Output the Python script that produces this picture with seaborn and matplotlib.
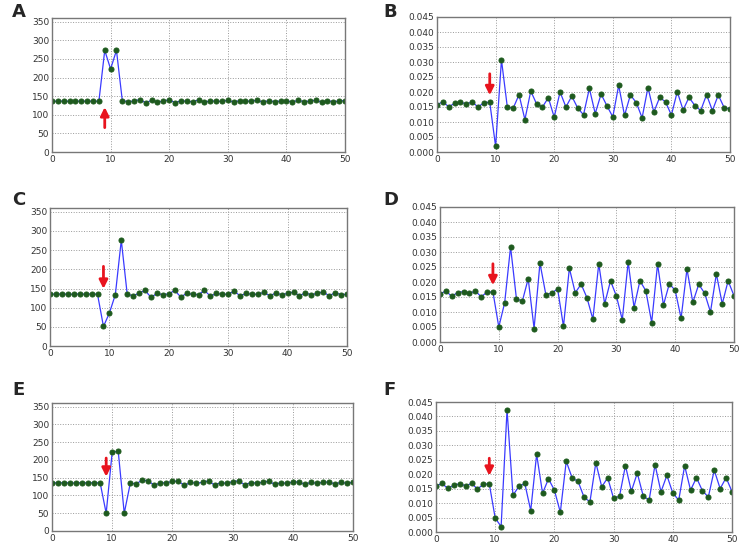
import numpy as np
import pandas as pd
import matplotlib
matplotlib.use('Agg')
import matplotlib.pyplot as plt
import seaborn as sns
from matplotlib.ticker import FormatStrFormatter

sns.set_style('whitegrid')
plt.rcParams['font.family'] = ['DejaVu Sans']

x = list(range(51))

# panel A, C, E: valores absolutos
a_vals = [137, 136, 137, 136, 136, 137, 136, 137, 136, 273, 223, 273, 138, 135, 137, 141, 132,
          139, 135, 136, 141, 132, 138, 136, 135, 140, 133, 138, 136, 136, 139, 134, 138, 136,
          137, 139, 134, 138, 135, 137, 138, 134, 139, 135, 137, 139, 134, 138, 135, 137, 138]
c_vals = [136, 135, 136, 135, 135, 136, 135, 136, 135, 51, 86, 134, 276, 135, 131, 138, 145,
          127, 137, 134, 136, 145, 128, 137, 135, 134, 145, 130, 137, 135, 135, 143, 131, 137,
          135, 135, 140, 131, 138, 134, 137, 141, 131, 139, 133, 138, 141, 131, 139, 134, 135]
e_vals = [136, 135, 136, 135, 135, 136, 135, 136, 135, 50, 222, 224, 50, 134, 133, 143, 141,
          128, 136, 135, 140, 140, 128, 137, 134, 137, 141, 129, 136, 134, 139, 141, 130, 136,
          135, 137, 140, 131, 136, 134, 138, 138, 131, 137, 134, 137, 138, 132, 137, 134, 137]

# panel B, D, F: valores relativos
b_vals = [0.0158, 0.0167, 0.0151, 0.0162, 0.0166, 0.0160, 0.0167, 0.0150, 0.0164, 0.0166,
          0.0019, 0.0307, 0.0150, 0.0146, 0.0191, 0.0108, 0.0203, 0.0160, 0.0150, 0.0181,
          0.0116, 0.0200, 0.0150, 0.0186, 0.0147, 0.0124, 0.0212, 0.0128, 0.0193, 0.0154,
          0.0117, 0.0222, 0.0122, 0.0190, 0.0165, 0.0114, 0.0215, 0.0133, 0.0182, 0.0167,
          0.0123, 0.0201, 0.0140, 0.0182, 0.0155, 0.0138, 0.0191, 0.0138, 0.0190, 0.0148, 0.0144]
d_vals = [0.0160, 0.0170, 0.0152, 0.0165, 0.0168, 0.0162, 0.0170, 0.0151, 0.0166, 0.0167,
          0.0050, 0.0131, 0.0317, 0.0144, 0.0136, 0.0211, 0.0045, 0.0263, 0.0158, 0.0163,
          0.0177, 0.0052, 0.0246, 0.0164, 0.0193, 0.0147, 0.0076, 0.0261, 0.0127, 0.0204,
          0.0153, 0.0074, 0.0267, 0.0115, 0.0204, 0.0171, 0.0065, 0.0260, 0.0123, 0.0194,
          0.0172, 0.0079, 0.0243, 0.0132, 0.0192, 0.0163, 0.0100, 0.0227, 0.0127, 0.0204, 0.0154]
f_vals = [0.0159, 0.0168, 0.0151, 0.0162, 0.0167, 0.0160, 0.0168, 0.0149, 0.0165, 0.0167,
          0.0048, 0.0019, 0.0423, 0.0127, 0.0158, 0.0168, 0.0074, 0.0269, 0.0134, 0.0184,
          0.0145, 0.0068, 0.0245, 0.0187, 0.0175, 0.0121, 0.0104, 0.0240, 0.0156, 0.0188,
          0.0116, 0.0124, 0.0230, 0.0141, 0.0204, 0.0125, 0.0110, 0.0233, 0.0139, 0.0196,
          0.0135, 0.0110, 0.0229, 0.0145, 0.0188, 0.0143, 0.0121, 0.0214, 0.0150, 0.0188, 0.0140]

labels = ['A', 'B', 'C', 'D', 'E', 'F']
series = [a_vals, b_vals, c_vals, d_vals, e_vals, f_vals]
# flecha roja: (cola, punta) en unidades del eje y
arrows = [(58, 128), (0.027, 0.018), (215, 142), (0.027, 0.018), (213, 145), (0.0265, 0.0185)]

W, H = 742, 544
fig = plt.figure(figsize=(W / 100, H / 100), dpi=100)

# posiciones de los ejes en pixeles: left, top, right, bottom
boxes = [(52, 18, 345, 152), (437, 17, 730, 152),
         (50, 208, 347, 346), (440, 207, 734, 342),
         (52, 403, 353, 531), (436, 402, 732, 532)]
label_pos = [(12, 12), (383, 12), (12, 200), (383, 200), (12, 390), (383, 390)]

for i in range(6):
    l, t, r, b = boxes[i]
    ax = fig.add_axes([l / W, 1 - b / H, (r - l) / W, (b - t) / H])
    df = pd.DataFrame({'x': x, 'y': series[i]})
    sns.lineplot(data=df, x='x', y='y', ax=ax, color='#3a3aff', linewidth=0.9,
                 marker='o', markersize=3.6, markerfacecolor='#1e5a1e',
                 markeredgecolor='#1e5a1e')
    ax.set_xlim(0, 50)
    ax.set_xticks(range(0, 51, 10))
    if i % 2 == 0:
        ax.set_ylim(0, 360)
        ax.set_yticks(range(0, 351, 50))
    else:
        ax.set_ylim(0, 0.045)
        ax.set_yticks(np.arange(0, 0.0451, 0.005))
        ax.yaxis.set_major_formatter(FormatStrFormatter('%.3f'))
    ax.set_xlabel('')
    ax.set_ylabel('')
    ax.grid(True, linestyle=':', color='#999999', linewidth=0.7)
    for s in ax.spines.values():
        s.set_color('#777777')
        s.set_linewidth(1.0)
    ax.tick_params(labelsize=6.5, colors='#333333', length=3, direction='in', pad=2)
    tail, head = arrows[i]
    ax.annotate('', xy=(9, head), xytext=(9, tail),
                arrowprops=dict(arrowstyle='-|>,head_width=0.25,head_length=0.5',
                                color='#e8141e', lw=2))
    fig.text(label_pos[i][0] / W, 1 - label_pos[i][1] / H, labels[i],
             fontsize=13, fontweight='bold', va='center', ha='left')

fig.savefig('out.png', dpi=100)
